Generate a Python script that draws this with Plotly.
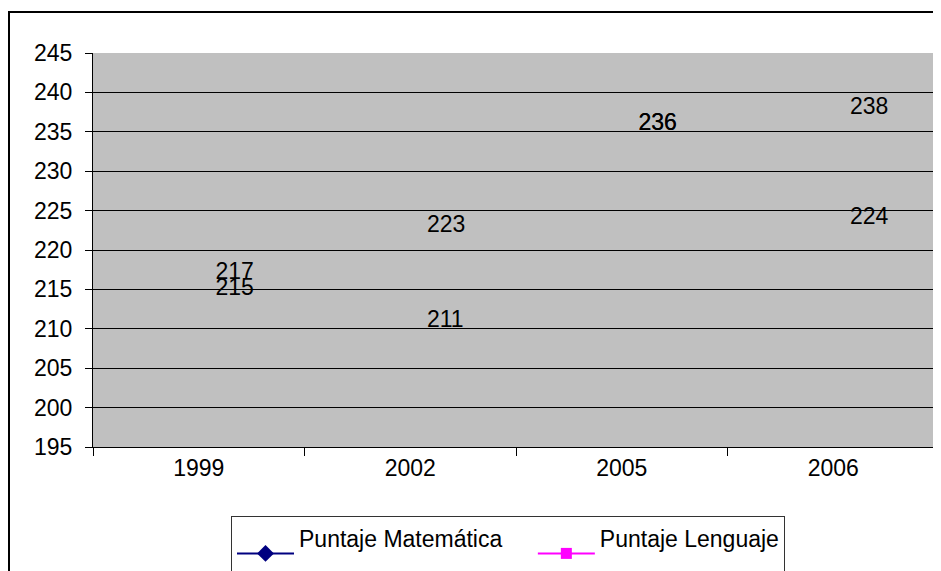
import plotly.graph_objects as go

years = ["1999", "2002", "2005", "2006"]
matematica = [215, 211, 236, 224]
lenguaje = [217, 223, 236, 238]
series_names = ["Puntaje Matemática", "Puntaje Lenguaje"]
y_ticks = list(range(195, 250, 5))

FONT = "Liberation Sans, Arial, sans-serif"

# page has an 8px body margin; work in page pixels and convert
OFF = 8
L, R, T, B = 93, 939, 53, 447          # plot area in page pixels
W, H = 941 - OFF, 571 - OFF            # figure size
def px_x(px):
    return (px - L) / (R - L)
def px_y(py):
    return (B - py) / (B - T)

fig = go.Figure()

for vals in (matematica, lenguaje):
    fig.add_trace(go.Scatter(
        x=years, y=vals, mode="markers+text",
        text=[str(v) for v in vals], textposition="middle right",
        textfont=dict(family=FONT, size=23, color="black"),
        marker=dict(size=25, color="rgba(0,0,0,0)"),
        showlegend=False, hoverinfo="x+y", cliponaxis=False,
    ))

# legend entries
fig.add_trace(go.Scatter(
    x=[None], y=[None], mode="lines+markers",
    name=series_names[0] + "\u00a0" * 4 + "<br> ",
    line=dict(color="#000080", width=2),
    marker=dict(symbol="diamond", size=13, color="#000080"),
))
fig.add_trace(go.Scatter(
    x=[None], y=[None], mode="lines+markers",
    name=series_names[1] + "<br> ",
    line=dict(color="#FF00FF", width=2),
    marker=dict(symbol="square", size=11, color="#FF00FF"),
))

fig.update_layout(
    width=W, height=H,
    margin=dict(l=L - OFF, r=941 - R, t=T - OFF, b=571 - B, autoexpand=False),
    paper_bgcolor="white", plot_bgcolor="#C0C0C0",
    font=dict(family=FONT, size=23, color="black"),
    showlegend=True,
    legend=dict(
        orientation="h", x=px_x(231), xanchor="left", y=px_y(516), yanchor="top",
        bgcolor="white", bordercolor="#333333", borderwidth=1,
        font=dict(family=FONT, size=23, color="black"),
        valign="middle", itemwidth=57,
    ),
    xaxis=dict(
        type="category", categoryorder="array", categoryarray=years,
        range=[-0.5, 3.5],
        showgrid=False, showline=True, linecolor="black", linewidth=1,
        ticks="outside", tickson="boundaries", ticklen=8, tickcolor="black",
        tickfont=dict(family=FONT, size=23, color="black"),
        mirror=False, zeroline=False,
    ),
    yaxis=dict(
        range=[195, 245], tickmode="array", tickvals=y_ticks,
        showgrid=True, gridcolor="black", gridwidth=1,
        showline=True, linecolor="black", linewidth=1,
        ticks="outside", ticklen=7, tickcolor="black",
        ticklabelstandoff=8,
        tickfont=dict(family=FONT, size=23, color="black"),
        zeroline=False,
    ),
    shapes=[
        dict(type="line", xref="paper", yref="paper",
             x0=px_x(5), x1=px_x(950), y0=px_y(12), y1=px_y(12),
             line=dict(color="black", width=2)),
        dict(type="line", xref="paper", yref="paper",
             x0=px_x(9), x1=px_x(9), y0=px_y(12), y1=px_y(580),
             line=dict(color="black", width=2)),
    ],
)

fig.write_html("out.html")
